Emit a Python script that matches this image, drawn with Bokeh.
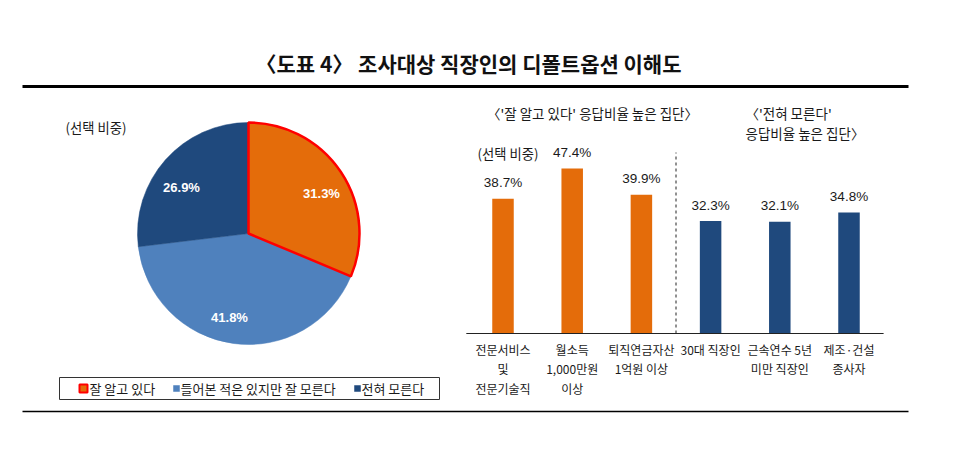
import numpy as np
from bokeh.plotting import figure
from bokeh.models import Range1d, ColumnDataSource
from bokeh.core.properties import value
from bokeh.embed import file_html
from bokeh.resources import INLINE

# ---------------- data ----------------
title_text = "〈도표 4〉 조사대상 직장인의 디폴트옵션 이해도"
pie_labels = ["잘 알고 있다", "들어본 적은 있지만 잘 모른다", "전혀 모른다"]
pie_values = [31.3, 41.8, 26.9]
pie_colors = ["#E46C0A", "#4F81BD", "#1F497D"]

bar_categories = ["전문서비스\n및\n전문기술직", "월소득\n1,000만원\n이상", "퇴직연금자산\n1억원 이상",
                  "30대 직장인", "근속연수 5년\n미만 직장인", "제조·건설\n종사자"]
bar_values = [38.7, 47.4, 39.9, 32.3, 32.1, 34.8]
bar_colors = ["#E46C0A", "#E46C0A", "#E46C0A", "#1F497D", "#1F497D", "#1F497D"]
group1_title = "〈'잘 알고 있다' 응답비율 높은 집단〉"
group2_title = ["〈'전혀 모른다'", "응답비율 높은 집단〉"]
unit_text = "(선택 비중)"

# ---------------- layout ----------------
W, H = 937, 442
KR = value("Noto Sans CJK KR")
NUM = value("Liberation Sans")
TXT = "#1a1a1a"

def X(px):  # screenshot x -> figure x
    return px

def Y(py):  # screenshot y -> figure y (upwards)
    return H - py

p = figure(width=W, height=H, x_range=Range1d(0, W), y_range=Range1d(0, H),
           output_backend="svg", toolbar_location=None, min_border=0)
p.axis.visible = False
p.grid.visible = False
p.outline_line_color = None
p.background_fill_color = "white"

# title and rules
p.text(x=[X(468)], y=[Y(62)], text=[title_text], text_font=KR, text_font_size="21px",
       text_font_style="bold", text_align="center", text_baseline="middle", text_color="#111")
p.segment(x0=[X(22)], y0=[Y(86)], x1=[X(908)], y1=[Y(86)], line_color="black", line_width=3)
p.segment(x0=[X(22)], y0=[Y(411)], x1=[X(908)], y1=[Y(411)], line_color="black", line_width=1.5)

# ---------------- pie ----------------
cx, cy, R = X(248), Y(233), 111
vals = np.array(pie_values)
frac = vals / vals.sum()
starts = np.pi / 2 - 2 * np.pi * np.concatenate([[0], np.cumsum(frac)[:-1]])
ends = starts - 2 * np.pi * frac
pie_src = ColumnDataSource(dict(start=starts, end=ends, color=pie_colors,
                                label=[f"{v:.1f}%" for v in pie_values]))
p.wedge(x=cx, y=cy, radius=R, start_angle="start", end_angle="end", direction="clock",
        fill_color="color", line_color="color", line_width=0.5, source=pie_src)
# highlighted slice outline
p.wedge(x=cx, y=cy, radius=R, start_angle=starts[0], end_angle=ends[0], direction="clock",
        fill_alpha=0, line_color="#FF0000", line_width=2.5)
# slice label positions (screen px), same order as pie_labels
pie_label_pos = [(321, 193), (229, 317), (181, 187)]
p.text(x=[X(a) for a, b in pie_label_pos], y=[Y(b) for a, b in pie_label_pos],
       text=pie_src.data["label"], text_font=NUM, text_font_size="13px",
       text_font_style="bold", text_color="white", text_align="center", text_baseline="middle")

p.text(x=[X(65)], y=[Y(127)], text=[unit_text], text_font=KR, text_font_size="13.3px",
       text_color=TXT, text_baseline="middle")

# legend (drawn from pie categories)
p.rect(x=[(X(59) + X(439)) / 2], y=[(Y(377) + Y(399)) / 2], width=X(439) - X(59),
       height=Y(377) - Y(399), fill_color="white", line_color="#333", line_width=1)
sw_x = [X(83), X(176), X(357)]
tx_x = [X(89), X(180), X(361)]
ly = Y(388)
p.scatter(x=sw_x, y=[ly] * 3, marker="square", size=[8, 6, 6], fill_color=pie_colors,
          line_color=["#FF0000", pie_colors[1], pie_colors[2]], line_width=[2, 0.5, 0.5])
p.text(x=tx_x, y=[ly] * 3, text=pie_labels, text_font=KR, text_font_size="13px",
       text_color=TXT, text_baseline="middle")

# ---------------- bars ----------------
bar0_px, bar_step_px = X(502.5), 69.2
base_py, px_per_pct = Y(333), 3.48
p.extra_x_ranges["bx"] = Range1d(-bar0_px / bar_step_px, (W - bar0_px) / bar_step_px)
p.extra_y_ranges["by"] = Range1d(-base_py / px_per_pct, (H - base_py) / px_per_pct)

idx = list(range(len(bar_values)))
p.vbar(x=idx, top=bar_values, bottom=0, width=21.5 / bar_step_px, fill_color=bar_colors,
       line_color=None, x_range_name="bx", y_range_name="by")
p.text(x=idx, y=bar_values, text=[f"{v:.1f}%" for v in bar_values], text_font=NUM,
       text_font_size="13.5px", text_color=TXT, text_align="center", text_baseline="middle",
       y_offset=-16, x_range_name="bx", y_range_name="by")
p.text(x=idx, y=[0] * len(idx), text=bar_categories, text_font=KR, text_font_size="12px",
       text_color=TXT, text_align="center", text_baseline="top", text_line_height=1.17,
       y_offset=7, x_range_name="bx", y_range_name="by")
# baseline
p.segment(x0=[-0.53], y0=[0], x1=[5.5], y1=[0], line_color="#222", line_width=1,
          x_range_name="bx", y_range_name="by")
# group separator
p.segment(x0=[2.5], y0=[0], x1=[2.5], y1=[52], line_color="#222", line_width=1,
          line_dash="3 3", x_range_name="bx", y_range_name="by")

p.text(x=[X(592)], y=[Y(112)], text=[group1_title], text_font=KR, text_font_size="13.5px",
       text_color=TXT, text_align="center", text_baseline="middle")
p.text(x=[X(745)] * 2, y=[Y(112), Y(132)], text=group2_title, text_font=KR,
       text_font_size="13.5px", text_color=TXT, text_baseline="middle")
p.text(x=[X(477)], y=[Y(153)], text=[unit_text], text_font=KR, text_font_size="13.3px",
       text_color=TXT, text_baseline="middle")

open("out.html", "w").write(file_html(p, INLINE))
